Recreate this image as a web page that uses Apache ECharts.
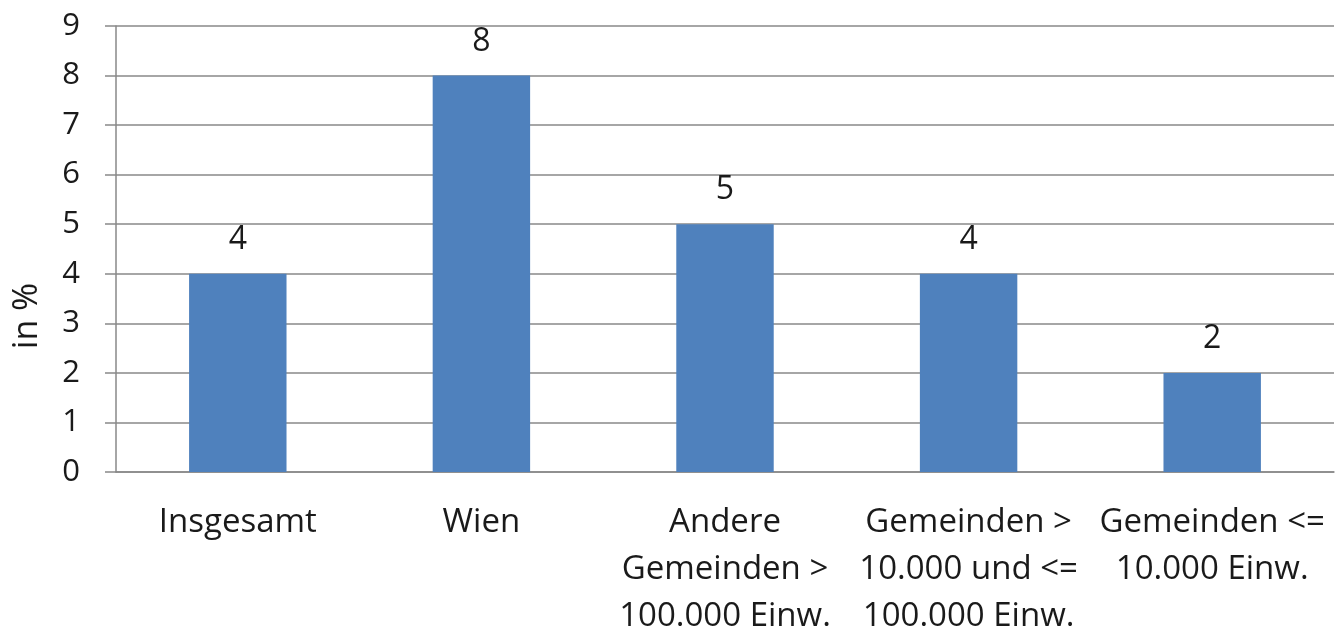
<!DOCTYPE html>
<html>
<head>
<meta charset="utf-8">
<script src="https://cdn.jsdelivr.net/npm/echarts@6/dist/echarts.min.js"></script>
<style>
  html, body { margin: 0; padding: 0; background: #fff; }
  #chart { width: 1336px; height: 633px; }
</style>
</head>
<body>
<div id="chart"></div>
<script>
// Kategorien (Gemeindegröße)
const categories = [
  'Insgesamt',
  'Wien',
  'Andere\nGemeinden >\n100.000 Einw.',
  'Gemeinden >\n10.000 und <=\n100.000 Einw.',
  'Gemeinden <=\n10.000 Einw.'
]
// Anteil in %
const values = [4, 8, 5, 4, 2]
const yAxisName = 'in %'

const FONT = '"Open Sans", Lato, sans-serif'
const GRAY = '#898989'
const TEXT = '#1a1a1a'

const chart = echarts.init(document.getElementById('chart'))

chart.setOption({
  animation: false,
  grid: {
    left: 116,
    right: 2,
    top: 26,
    bottom: 161,
    outerBoundsMode: 'none'
  },
  xAxis: {
    type: 'category',
    data: categories,
    axisLine: { lineStyle: { color: GRAY, width: 1.5 } },
    axisTick: { length: 12, lineStyle: { color: GRAY, width: 1.5 } },
    axisLabel: {
      interval: 0,
      margin: 27,
      fontSize: 33,
      lineHeight: 47,
      color: TEXT,
      fontFamily: FONT
    }
  },
  yAxis: {
    type: 'value',
    min: 0,
    max: 9,
    interval: 1,
    name: yAxisName,
    nameLocation: 'middle',
    nameGap: 72,
    nameTextStyle: {
      fontSize: 34,
      color: TEXT,
      fontFamily: FONT,
      // etwas unterhalb der Mitte wie im Original
      padding: [0, 134, 0, 0]
    },
    axisLine: { show: true, lineStyle: { color: GRAY, width: 1.5 } },
    axisTick: { show: true, length: 11, lineStyle: { color: GRAY, width: 1.5 } },
    axisLabel: {
      margin: 36,
      fontSize: 31,
      color: TEXT,
      fontFamily: FONT
    },
    splitLine: { lineStyle: { color: GRAY, width: 1.5 } }
  },
  series: [
    {
      type: 'bar',
      data: values,
      barWidth: '40%',
      itemStyle: { color: '#4F81BD' },
      label: {
        show: true,
        position: 'top',
        distance: 18,
        fontSize: 32,
        color: TEXT,
        fontFamily: FONT
      }
    }
  ]
})
</script>
</body>
</html>
